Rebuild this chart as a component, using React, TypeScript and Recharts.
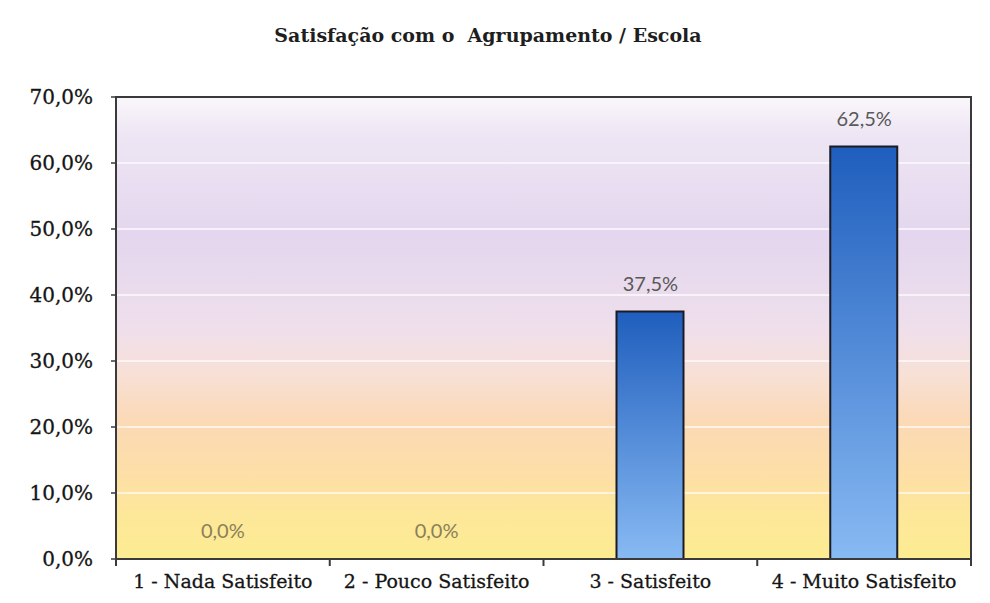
import { ComposedChart, Bar, Line, XAxis, YAxis, CartesianGrid, LabelList, ReferenceArea } from 'recharts';

const categories = ['1 - Nada Satisfeito', '2 - Pouco Satisfeito', '3 - Satisfeito', '4 - Muito Satisfeito'];
const percentages = [0, 0, 37.5, 62.5];
const yTicks = [0, 10, 20, 30, 40, 50, 60, 70];

const data = categories.map((name, i) => ({ name, value: percentages[i] }));

const W = 990;
const H = 603;
const M = { top: 97, right: 19, left: 0, bottom: 0 };
const Y_AXIS_W = 116;
const PLOT_W = W - M.left - M.right - Y_AXIS_W;

const fmt = (v: number) => v.toFixed(1).replace('.', ',') + '%';

const serif = '"DejaVu Serif", serif';

function XTick(props: any) {
  const { x, y, payload, index } = props;
  const bw = PLOT_W / categories.length;
  const last = index === categories.length - 1;
  return (
    <g>
      <line x1={x - bw / 2} x2={x - bw / 2} y1={y} y2={y + 7} stroke="#3a3a3a" strokeWidth={2} />
      {last && <line x1={x + bw / 2} x2={x + bw / 2} y1={y} y2={y + 7} stroke="#3a3a3a" strokeWidth={2} />}
      <text x={x} y={y + 24} textAnchor="middle" dominantBaseline="middle" fontFamily={serif} fontSize={19} fill="#151515" stroke="#151515" strokeWidth={0.3}>
        {payload.value}
      </text>
    </g>
  );
}

// labels hang off an invisible line so the 0% categories get one too
function ValueLabel(props: any) {
  const { x, y, width, value } = props;
  const zero = Number(value) === 0;
  return (
    <text
      x={x + (width || 0) / 2}
      y={y - 26}
      textAnchor="middle"
      dominantBaseline="middle"
      fontFamily="Lato, sans-serif"
      fontSize={20}
      fill={zero ? '#8a8058' : '#595959'}
    >
      {fmt(Number(value))}
    </text>
  );
}

export default function App() {
  return (
    <div style={{ position: 'absolute', left: 0, top: 0, width: W, height: H, background: '#fff' }}>
      <div
        style={{
          position: 'absolute',
          left: 0,
          top: 24,
          width: 976,
          textAlign: 'center',
          fontFamily: serif,
          fontWeight: 'bold',
          fontSize: 19,
          color: '#1e1e1e',
        }}
      >
        Satisfação com o&nbsp; Agrupamento / Escola
      </div>
      <ComposedChart width={W} height={H} data={data} margin={M}>
        <defs>
          <linearGradient id="bg" x1="0" y1="0" x2="0" y2="1">
            <stop offset="0" stopColor="#faf7fb" />
            <stop offset="0.08" stopColor="#eee6f4" />
            <stop offset="0.3" stopColor="#e3d6ee" />
            <stop offset="0.5" stopColor="#efdfec" />
            <stop offset="0.6" stopColor="#f7e0d6" />
            <stop offset="0.7" stopColor="#fbd9b6" />
            <stop offset="0.82" stopColor="#fddfa6" />
            <stop offset="0.9" stopColor="#fde79a" />
            <stop offset="1" stopColor="#fdec92" />
          </linearGradient>
          <linearGradient id="bar" x1="0" y1="0" x2="0" y2="1">
            <stop offset="0" stopColor="#1f5ebd" />
            <stop offset="1" stopColor="#88baf3" />
          </linearGradient>
        </defs>
        <CartesianGrid vertical={false} fill="url(#bg)" fillOpacity={1} stroke="#ffffff" strokeWidth={1.5} strokeOpacity={0.85} />
        <XAxis
          dataKey="name"
          axisLine={{ stroke: '#3a3a3a', strokeWidth: 2 }}
          tickLine={false}
          tickSize={0}
          tickMargin={0}
          height={44}
          tick={<XTick />}
          interval={0}
        />
        <YAxis
          width={Y_AXIS_W}
          domain={[0, 70]}
          ticks={yTicks}
          tickFormatter={fmt}
          axisLine={{ stroke: '#3a3a3a', strokeWidth: 2 }}
          tickLine={{ stroke: '#3a3a3a', strokeWidth: 1.5 }}
          tickSize={5}
          tickMargin={18}
          tick={{ fontFamily: serif, fontSize: 20, fill: '#151515', stroke: '#151515', strokeWidth: 0.3 }}
          allowDataOverflow
        />
        <ReferenceArea y1={0} y2={70} fill="none" stroke="#3a3a3a" strokeWidth={2} />
        <Bar dataKey="value" fill="url(#bar)" stroke="#1b1b24" strokeWidth={2} barSize={67} isAnimationActive={false} />
        <Line dataKey="value" stroke="none" dot={false} activeDot={false} isAnimationActive={false}>
          <LabelList dataKey="value" content={<ValueLabel />} />
        </Line>
      </ComposedChart>
    </div>
  );
}
